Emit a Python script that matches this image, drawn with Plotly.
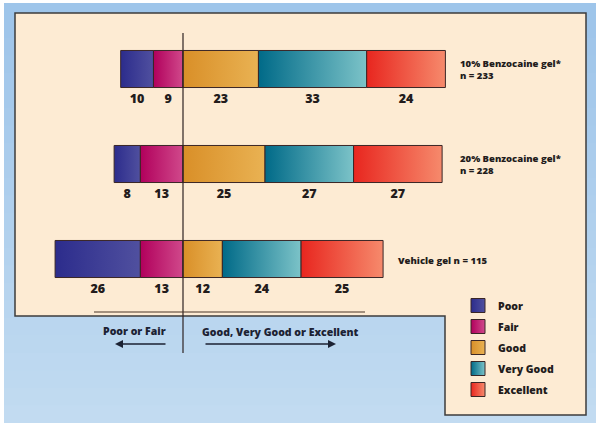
import plotly.graph_objects as go

# ratings (%) per group
groups = ["10% Benzocaine gel*", "20% Benzocaine gel*", "Vehicle gel"]
n_patients = [233, 228, 115]
poor = [10, 8, 26]
fair = [9, 13, 13]
good = [23, 25, 12]
very_good = [33, 27, 24]
excellent = [24, 27, 25]

categories = ["Poor", "Fair", "Good", "Very Good", "Excellent"]
# left -> right gradient colours of each category
grad_colors = {
    "Poor": ("#2c2c8c", "#50509f"),
    "Fair": ("#b1005c", "#d0498b"),
    "Good": ("#d98f28", "#e9b253"),
    "Very Good": ("#006a88", "#7cc3c8"),
    "Excellent": ("#e8261f", "#f68a6c"),
}

W, H = 600, 426
S = 3.28        # px per percent
X0 = 183        # px position of the zero line
BAR_HALF = 0.195
ypos = [2, 1, 0]
FONT = "Open Sans"
WEIGHT = 800
DARK = "#231c1c"


def px_x(p):
    return p / W


def px_y(p):
    return 1 - p / H


def font(size, color=DARK):
    return dict(family=FONT, size=size, color=color, weight=WEIGHT)


# segment edges from the data
segments = {c: [] for c in categories}
for i in range(len(groups)):
    left = -(poor[i] + fair[i])
    edges = [left, -fair[i], 0, good[i], good[i] + very_good[i],
             good[i] + very_good[i] + excellent[i]]
    vals = [poor[i], fair[i], good[i], very_good[i], excellent[i]]
    for k, c in enumerate(categories):
        segments[c].append((edges[k], edges[k + 1], vals[k]))

fig = go.Figure()

# bars as gradient filled rectangles
for c in categories:
    c0, c1 = grad_colors[c]
    for i, (a, b, v) in enumerate(segments[c]):
        y0, y1 = ypos[i] - BAR_HALF, ypos[i] + BAR_HALF
        fig.add_trace(go.Scatter(
            x=[a, b, b, a, a],
            y=[y0, y0, y1, y1, y0],
            mode="lines",
            fill="toself",
            fillgradient=dict(type="horizontal", colorscale=[[0, c0], [1, c1]]),
            line=dict(color="#3a2626", width=1),
            showlegend=False,
            hoverinfo="skip",
        ))

# value labels under each segment
lx, ly, lt = [], [], []
for c in categories:
    for i, (a, b, v) in enumerate(segments[c]):
        lx.append((a + b) / 2)
        ly.append(ypos[i] - 0.33)
        lt.append(str(v))
fig.add_trace(go.Scatter(
    x=lx, y=ly, text=lt, mode="text",
    textfont=font(12.5),
    showlegend=False, hoverinfo="skip",
))

# legend entries
for k, c in enumerate(categories):
    c0, c1 = grad_colors[c]
    fig.add_trace(go.Scatter(
        x=[None], y=[None], mode="markers", name=c,
        legendgroup=c,
        marker=dict(symbol="square", size=14, color=c0,
                    gradient=dict(type="horizontal", color=c1),
                    line=dict(color="#3a2626", width=1)),
    ))

shapes = []
# blue background with a soft vertical gradient
nb = 24
top, bottom = 3, 423
for k in range(nb):
    t = k / (nb - 1)
    r = int(0x9e + (0xc2 - 0x9e) * t)
    g = int(0xc5 + (0xdb - 0xc5) * t)
    b = int(0xea + (0xf1 - 0xea) * t)
    ya = top + (bottom - top) * k / nb
    yb = top + (bottom - top) * (k + 1) / nb + 1
    shapes.append(dict(type="rect", xref="paper", yref="paper",
                       x0=px_x(4), x1=px_x(596), y0=px_y(ya), y1=px_y(min(yb, bottom)),
                       fillcolor=f"rgb({r},{g},{b})", line=dict(width=0), layer="below"))

# beige panel
path = "M {},{} L {},{} L {},{} L {},{} L {},{} L {},{} Z".format(
    px_x(15), px_y(13), px_x(586), px_y(13), px_x(586), px_y(415),
    px_x(445), px_y(415), px_x(445), px_y(316), px_x(15), px_y(316))
shapes.append(dict(type="path", xref="paper", yref="paper", path=path,
                   fillcolor="#fdebd3", line=dict(color="#3c3c3c", width=1.5),
                   layer="below"))

# zero line
shapes.append(dict(type="line", xref="x", yref="paper", x0=0, x1=0,
                   y0=px_y(33), y1=px_y(353), line=dict(color="#2e2222", width=1.2)))
# separator under the bars
shapes.append(dict(type="line", xref="paper", yref="paper", x0=px_x(94), x1=px_x(365),
                   y0=px_y(312), y1=px_y(312), line=dict(color="#4a3628", width=1.2)))

annotations = []
# group labels
for i in range(2):
    yc = [69, 165][i]
    annotations.append(dict(x=px_x(458), y=px_y(yc), xref="paper", yref="paper",
                            text=f"{groups[i]}<br>n = {n_patients[i]}", showarrow=False,
                            xanchor="left", yanchor="middle", align="left",
                            font=font(9.5)))
annotations.append(dict(x=px_x(396), y=px_y(260), xref="paper", yref="paper",
                        text=f"{groups[2]} n = {n_patients[2]}", showarrow=False,
                        xanchor="left", yanchor="middle", font=font(9.5)))

# direction texts and arrows
annotations.append(dict(x=px_x(134), y=px_y(331), xref="paper", yref="paper",
                        text="Poor or Fair", showarrow=False, xanchor="center",
                        yanchor="middle", font=font(10.5, "#1c2233")))
annotations.append(dict(x=px_x(280), y=px_y(332), xref="paper", yref="paper",
                        text="Good, Very Good or Excellent", showarrow=False,
                        xanchor="center", yanchor="middle", font=font(10.5, "#1c2233")))
annotations.append(dict(x=px_x(115), y=px_y(344), xref="paper", yref="paper",
                        ax=52, ay=0, axref="pixel", ayref="pixel", text="",
                        showarrow=True, arrowhead=2, arrowsize=1, arrowwidth=1.6,
                        arrowcolor="#1c2233"))
annotations.append(dict(x=px_x(336), y=px_y(344), xref="paper", yref="paper",
                        ax=-132, ay=0, axref="pixel", ayref="pixel", text="",
                        showarrow=True, arrowhead=2, arrowsize=1, arrowwidth=1.6,
                        arrowcolor="#1c2233"))

fig.update_layout(
    width=W, height=H,
    margin=dict(l=0, r=0, t=0, b=0),
    paper_bgcolor="white",
    plot_bgcolor="rgba(0,0,0,0)",
    xaxis=dict(range=[-X0 / S, (W - X0) / S], visible=False, fixedrange=True),
    yaxis=dict(range=[-(H - 259) / 95, 2 + 69 / 95], visible=False, fixedrange=True),
    shapes=shapes,
    annotations=annotations,
    showlegend=True,
    legend=dict(x=px_x(458), y=px_y(291), xanchor="left", yanchor="top",
                bgcolor="rgba(0,0,0,0)", tracegroupgap=2,
                font=font(10.5)),
    hovermode=False,
)

fig.write_html("out.html", config={"displayModeBar": False},
               post_script="document.body.style.margin='0';")
